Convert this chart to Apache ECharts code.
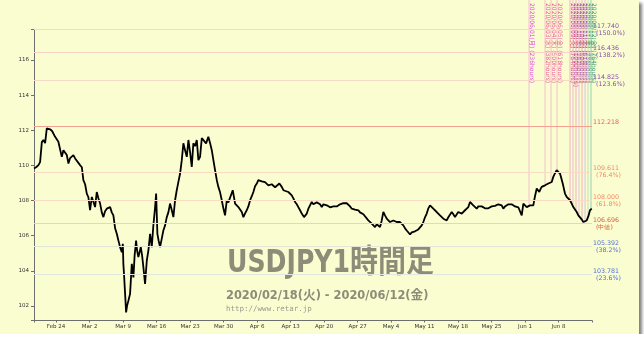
<!DOCTYPE html>
<html><head><meta charset="utf-8">
<script src="https://cdn.jsdelivr.net/npm/echarts@6/dist/echarts.min.js"></script>
<style>
html,body{margin:0;padding:0;background:#ffffff;}
#c{width:639px;height:334px;box-shadow:3px 3px 3px #808080;}
</style></head><body><div id="c"></div>
<script>
// ---- data (x = trading days from Mon Feb 24, weekends removed) ----
const weekLabels = ['Feb 24','Mar 2','Mar 9','Mar 16','Mar 23','Mar 30','Apr 6','Apr 13','Apr 20','Apr 27','May 4','May 11','May 18','May 25','Jun 1','Jun 8'];
const weekStarts = [0,5,10,15,20,25,30,35,40,45,50,55,60,65,70,75];
const yTickValues = [102,104,106,108,110,112,114,116];
const xMin = -3.3, xMax = 80;
const yMin = 101.174, yMax = 117.740;

const days = [-3.3,-2.99,-2.64,-2.39,-2.13,-1.90,-1.64,-1.39,-1.15,-0.90,-0.60,-0.15,0.10,0.34,0.60,0.85,1.09,1.34,1.60,1.84,2.09,2.34,2.58,2.84,3.13,3.58,3.84,4.07,4.33,4.58,4.82,5.07,5.33,5.57,5.82,6.07,6.31,6.57,6.82,7.06,7.31,7.57,7.81,8.06,8.31,8.55,8.81,9.06,9.30,9.55,9.81,9.96,10.04,10.15,10.30,10.45,10.60,10.79,11.04,11.30,11.54,11.72,11.94,12.09,12.28,12.64,12.84,13.03,13.28,13.54,13.78,14.03,14.28,14.52,14.78,14.93,15.12,15.30,15.52,15.78,16.01,16.27,16.52,16.76,17.01,17.27,17.51,17.76,18.01,18.25,18.51,18.76,19.00,19.25,19.51,19.75,20.00,20.25,20.49,20.75,21.00,21.24,21.49,21.75,21.99,22.39,22.73,22.99,23.24,23.48,23.73,23.99,24.22,24.48,24.73,24.97,25.22,25.48,25.72,25.97,26.37,26.72,26.97,27.21,27.46,27.72,27.96,28.21,28.46,28.70,28.96,29.21,29.45,29.70,29.96,30.19,30.45,30.70,30.94,31.19,31.45,31.69,31.94,32.19,32.43,32.69,32.94,33.33,33.69,33.93,34.18,34.67,34.93,35.18,35.42,35.67,35.93,36.16,36.42,36.67,37.01,37.42,37.66,37.91,38.16,38.40,38.66,38.91,39.15,39.40,39.66,39.90,40.15,40.40,40.64,40.90,41.15,41.39,41.64,41.90,42.13,42.39,42.64,42.88,43.13,43.39,43.63,43.88,44.13,44.37,44.63,44.88,45.12,45.37,45.63,45.87,46.12,46.37,46.61,46.87,47.12,47.36,47.61,47.87,48.10,48.36,48.61,48.85,49.10,49.36,49.60,49.85,50.10,50.34,50.60,50.85,51.09,51.34,51.60,51.84,52.09,52.34,52.58,52.84,53.09,53.33,53.58,53.84,54.07,54.33,54.58,54.82,55.07,55.33,55.57,55.82,56.07,56.31,56.57,56.82,57.06,57.31,57.57,57.81,58.06,58.31,58.55,58.81,59.06,59.30,59.55,59.81,60.04,60.30,60.55,60.79,61.04,61.30,61.54,61.79,62.04,62.28,62.54,62.79,63.03,63.28,63.54,63.78,64.03,64.28,64.52,64.78,65.03,65.27,65.52,65.78,66.01,66.27,66.52,66.76,67.01,67.27,67.51,67.76,68.01,68.25,68.51,68.76,69.00,69.25,69.51,69.75,70.00,70.25,70.49,70.75,71.00,71.24,71.49,71.75,71.94,72.13,72.31,72.49,72.73,72.99,73.24,73.48,73.73,73.99,74.22,74.48,74.73,74.97,75.22,75.42,75.63,75.82,75.97,76.22,76.46,76.72,76.97,77.21,77.46,77.72,77.96,78.21,78.46,78.70,78.96,79.21,79.45,79.70,79.96];

const prices = [109.83,109.90,110.02,110.19,111.33,111.45,111.27,112.11,112.07,112.06,111.96,111.63,111.67,111.35,111.45,110.49,110.87,110.82,110.59,110.11,110.42,110.49,110.59,110.40,110.30,110.02,109.90,109.16,108.93,108.40,108.19,107.45,108.21,108.19,107.63,108.49,108.13,107.83,107.33,107.06,107.39,107.54,107.62,107.63,107.33,107.16,106.42,106.11,105.73,105.35,105.06,105.54,104.40,103.73,102.69,101.63,102.02,102.30,102.69,104.40,103.63,104.87,105.73,105.16,104.78,105.35,104.87,104.21,103.26,104.59,105.16,106.11,105.35,106.59,107.63,108.40,106.11,105.73,105.35,105.85,106.30,106.59,107.06,107.33,107.83,107.45,107.06,108.02,108.59,109.05,109.54,110.30,111.26,110.87,110.49,111.45,110.76,109.92,111.26,111.10,111.45,110.30,110.49,111.56,111.63,111.26,111.63,111.27,110.87,110.30,109.73,109.16,108.78,108.47,108.02,107.56,107.16,108.02,107.90,107.83,108.59,107.83,107.73,107.63,107.56,107.35,107.06,107.27,107.45,107.67,108.02,108.25,108.49,108.82,108.97,109.16,109.26,109.10,109.16,109.05,108.97,108.87,108.78,108.93,108.87,108.76,108.69,108.97,108.78,108.59,108.49,108.49,108.42,108.30,108.13,107.92,107.79,107.63,107.45,107.26,107.06,107.26,107.54,107.73,107.92,107.79,107.73,107.90,107.92,107.79,107.63,107.79,107.83,107.73,107.73,107.62,107.54,107.67,107.73,107.67,107.73,107.79,107.86,107.85,107.92,107.85,107.83,107.67,107.54,107.56,107.49,107.50,107.45,107.33,107.26,107.22,107.16,106.99,106.87,106.76,106.69,106.59,106.49,106.65,106.59,106.49,106.87,107.35,107.16,106.97,106.93,106.78,106.87,106.87,106.82,106.78,106.76,106.78,106.70,106.59,106.42,106.30,106.19,106.07,106.19,106.30,106.25,106.30,106.36,106.40,106.59,106.78,107.05,107.26,107.56,107.73,107.62,107.54,107.45,107.35,107.27,107.16,107.05,106.97,106.93,106.87,107.05,107.16,107.35,107.22,107.06,107.22,107.35,107.33,107.26,107.33,107.45,107.56,107.63,107.92,107.85,107.73,107.62,107.54,107.67,107.73,107.67,107.63,107.56,107.45,107.56,107.63,107.67,107.67,107.70,107.73,107.79,107.86,107.73,107.54,107.67,107.73,107.79,107.83,107.79,107.73,107.67,107.63,107.62,107.54,107.16,107.83,107.73,107.63,107.67,107.73,107.73,107.73,108.25,108.69,108.59,108.49,108.65,108.78,108.82,108.87,108.93,108.97,109.02,109.06,109.35,109.56,109.73,109.67,109.54,109.27,108.97,108.65,108.40,108.21,108.11,108.02,107.83,107.63,107.54,107.35,107.16,107.06,106.93,106.78,106.69,106.87,107.10,107.45,107.54];

// Fibonacci price levels (right side)
const levelValues = [117.740,116.436,114.825,112.218,109.611,108.000,106.696,105.392,103.781,101.174];
const levelNotes  = ['(150.0%)','(138.2%)','(123.6%)','','(76.4%)','(61.8%)','(中値)','(38.2%)','(23.6%)',''];

// Fibonacci time lines (top right)
const timeLineDays = [70.60,72.99,73.88,74.78,76.72,77.16,77.61,78.06,78.51,78.96,79.40,79.85];
const timeLineEnds = [107.70,108.87,109.06,109.70,108.02,107.63,107.40,107.10,106.90,106.70,107.10,107.50];
const timeLineTexts = ['2020/06/01(月) (236hours)','2020/06/03(水) (382hours)','2020/06/04(木) (500hours)','2020/06/05(金) (618hours)','2020/06/09(火) (764hours)','2020/06/09(火) (1000hours)','2020/06/10(水) (382hours)','2020/06/10(水) (500hours)','2020/06/11(木) (618hours)','2020/06/11(木) (236hours)','2020/06/12(金) (382hours)','2020/06/12(金) (764hours)'];

// ---- styles ----
const levelTextColors = ['#8a4fb0','#8a4fb0','#8a4fb0','#ee5a4a','#f08a6a','#f08a6a','#d8603c','#5070d8','#5070d8','#3a3ae0'];
const levelLineColors = ['#eee0c6','#f6d2c8','#f6d8c4','#f4a090','#f8dcc4','#f8dcc4','#f4d0b8','#e2e6d6','#e2e6dc','#c8c8ea'];
const timeLineColors = ['#f4bcd8','#f4c0c8','#f4c0c8','#f4c0c8','#f0b0c0','#e8b8d8','#f0b0c0','#e0c0e0','#f0b0b0','#d0c0e8','#c0e0c0','#90d0b0'];
const timeTextColors = ['#e048e0','#e85a9a','#e85a9a','#e85a9a','#e03040','#b040b0','#e03040','#9040c0','#e03030','#8050c0','#60b060','#40a080'];

const chart = echarts.init(document.getElementById('c'), null, {renderer:'canvas'});

const option = {
  backgroundColor: '#fafdd0',
  animation: false,
  grid: {left: 34, right: 47, top: 29.5, bottom: 13.5},
  xAxis: {
    type: 'value', min: xMin, max: xMax,
    axisLine: {show: true, onZero: false, lineStyle: {color: '#6e6e6e', width: 1}},
    axisTick: {show: true, length: 2, lineStyle: {color: '#6e6e6e'}, customValues: [xMin].concat(weekStarts, [xMax])},
    axisLabel: {show: true, fontSize: 5.5, color: '#333', margin: 3, fontFamily: 'DejaVu Sans',
      customValues: weekStarts,
      formatter: v => weekLabels[weekStarts.indexOf(v)] || ''},
    splitLine: {show: false}
  },
  yAxis: {
    type: 'value', min: yMin, max: yMax,
    axisLine: {show: true, onZero: false, lineStyle: {color: '#6e6e6e', width: 1}},
    axisTick: {show: true, length: 3, lineStyle: {color: '#6e6e6e'}, customValues: [yMin].concat(yTickValues, [yMax])},
    axisLabel: {show: true, fontSize: 5.5, color: '#333', margin: 5, fontFamily: 'DejaVu Sans',
      customValues: yTickValues},
    splitLine: {show: false}
  },
  graphic: [
    {type:'text', left: 227, top: 248, z: 0, scaleX: 0.875, style:{text:'USDJPY1時間足', font:'bold 32px "DejaVu Sans Condensed","Noto Sans CJK JP"', fill:'#8c8c78'}},
    {type:'text', left: 226, top: 289, z: 0, scaleX: 0.975, style:{text:'2020/02/18(火) - 2020/06/12(金)', font:'bold 13px "DejaVu Sans Condensed","Noto Sans CJK JP"', fill:'#8c8c78'}},
    {type:'text', left: 226, top: 305, z: 0, style:{text:'http://www.retar.jp', font:'7.5px "DejaVu Sans Mono"', fill:'#9a9a90'}}
  ],
  series: [
    {
      type: 'line', data: [], z: 1, silent: true,
      markLine: {
        silent: true, symbol: ['none','none'], animation: false,
        data: levelValues.map((v, i) => ({
          yAxis: v,
          lineStyle: {color: levelLineColors[i], type: 'solid', width: 1},
          label: {
            show: true, position: 'end', distance: 1,
            offset: levelNotes[i] ? [0, 0] : [0, -4],
            formatter: () => levelNotes[i] ? '{v|' + v.toFixed(3) + '}\n{p|' + levelNotes[i] + '}' : '{v|' + v.toFixed(3) + '}',
            rich: {
              v: {fontSize: 6.3, lineHeight: 7, color: levelTextColors[i], fontFamily: 'DejaVu Sans'},
              p: {fontSize: 6.3, lineHeight: 7, color: levelTextColors[i], fontFamily: 'DejaVu Sans', padding: [0,0,0,3]}
            }
          }
        }))
      }
    },
    {
      type: 'custom', z: 2, silent: true,
      data: timeLineDays.map((d, i) => [d, timeLineEnds[i]]),
      renderItem: function (params, api) {
        const i = params.dataIndex;
        const p = api.coord([api.value(0), api.value(1)]);
        return {type: 'group', children: [
          {type: 'line', shape: {x1: p[0], y1: 0, x2: p[0], y2: p[1]}, style: {stroke: timeLineColors[i], lineWidth: 1}},
          {type: 'text', x: p[0] + 2.5, y: 3, rotation: -Math.PI / 2,
            style: {text: timeLineTexts[i], fill: timeTextColors[i], font: '6px "DejaVu Sans","Noto Sans CJK JP"', align: 'left', verticalAlign: 'middle'}}
        ]};
      }
    },
    {
      type: 'line', z: 3, symbol: 'none', silent: true,
      data: days.map((d, i) => [d, prices[i]]),
      lineStyle: {color: '#000', width: 1.8}
    }
  ]
};
chart.setOption(option);
</script></body></html>
